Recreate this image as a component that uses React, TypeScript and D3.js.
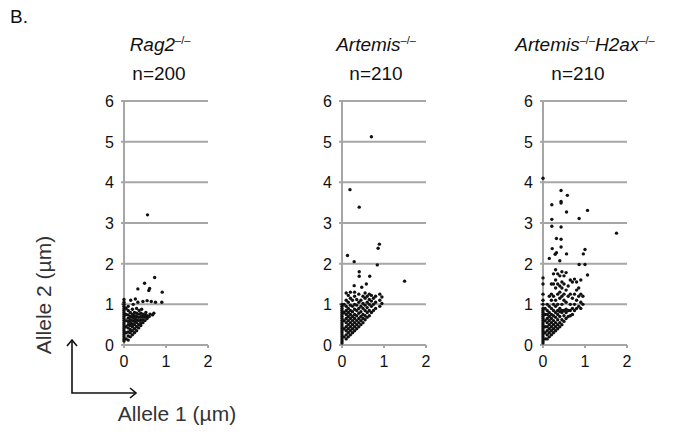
import * as d3 from 'd3';

// [Allele 1, Allele 2] in µm
const rag2Points: [number, number][] = [
  [0, 0.1], [0, 0.15], [0, 0.2], [0, 0.25], [0, 0.3], [0, 0.35], [0, 0.4], [0, 0.45], [0, 0.5], [0, 0.55],
  [0, 0.6], [0, 0.65], [0, 0.7], [0, 0.75], [0, 0.8], [0, 0.85], [0, 0.9], [0, 0.95], [0, 1.0], [0, 1.05], [0, 1.12],
  [0.05, 0.15], [0.05, 0.3], [0.05, 0.45], [0.05, 0.6], [0.05, 0.75], [0.05, 0.9],
  [0.1, 0.12], [0.1, 0.22], [0.1, 0.32], [0.1, 0.42], [0.1, 0.5], [0.1, 0.58], [0.1, 0.66], [0.1, 0.74], [0.1, 0.85], [0.1, 0.95],
  [0.15, 0.2], [0.15, 0.3], [0.15, 0.38], [0.15, 0.48], [0.15, 0.55], [0.15, 0.62], [0.15, 0.7], [0.15, 0.8], [0.16, 1.1],
  [0.2, 0.25], [0.2, 0.35], [0.2, 0.45], [0.2, 0.52], [0.2, 0.6], [0.2, 0.68], [0.2, 0.75], [0.2, 0.88], [0.22, 1.0],
  [0.25, 0.3], [0.25, 0.4], [0.25, 0.5], [0.25, 0.58], [0.25, 0.65], [0.25, 0.72], [0.25, 0.8], [0.27, 1.13],
  [0.3, 0.35], [0.3, 0.45], [0.3, 0.55], [0.3, 0.62], [0.3, 0.7], [0.3, 0.78], [0.3, 0.9], [0.33, 1.05], [0.33, 1.38],
  [0.35, 0.42], [0.35, 0.5], [0.35, 0.6], [0.35, 0.68], [0.35, 0.76], [0.36, 0.85],
  [0.4, 0.48], [0.4, 0.55], [0.4, 0.62], [0.4, 0.7], [0.4, 0.78], [0.42, 0.88],
  [0.45, 0.55], [0.45, 0.62], [0.45, 0.7], [0.45, 0.76], [0.45, 1.07], [0.49, 1.52],
  [0.5, 0.6], [0.5, 0.68], [0.5, 0.74], [0.52, 0.8],
  [0.55, 0.65], [0.55, 0.72], [0.55, 1.09], [0.56, 3.2], [0.59, 1.34], [0.61, 1.39],
  [0.6, 0.7], [0.62, 0.76], [0.65, 1.07], [0.68, 0.74], [0.71, 0.78], [0.73, 1.66], [0.75, 1.05], [0.9, 1.05], [0.91, 1.3],
];

const artemisPoints: [number, number][] = [
  [0, 0.05], [0, 0.1], [0, 0.15], [0, 0.2], [0, 0.25], [0, 0.3], [0, 0.35], [0, 0.4], [0, 0.45], [0, 0.5],
  [0, 0.55], [0, 0.6], [0, 0.65], [0, 0.7], [0, 0.75], [0, 0.8], [0, 0.85], [0, 0.9], [0, 0.95], [0, 1.0],
  [0.05, 0.2], [0.05, 0.4], [0.05, 0.6], [0.05, 0.8], [0.05, 1.0],
  [0.1, 0.15], [0.1, 0.25], [0.1, 0.35], [0.1, 0.45], [0.1, 0.55], [0.1, 0.65], [0.1, 0.75], [0.1, 0.85], [0.1, 0.95], [0.1, 1.1], [0.1, 1.28],
  [0.15, 0.2], [0.15, 0.3], [0.15, 0.4], [0.15, 0.5], [0.15, 0.6], [0.15, 0.7], [0.15, 0.8], [0.15, 0.9], [0.15, 1.05], [0.15, 1.22],
  [0.2, 0.25], [0.2, 0.35], [0.2, 0.45], [0.2, 0.55], [0.2, 0.65], [0.2, 0.75], [0.2, 0.85], [0.2, 0.98], [0.2, 1.15], [0.2, 1.3],
  [0.25, 0.3], [0.25, 0.4], [0.25, 0.5], [0.25, 0.6], [0.25, 0.7], [0.25, 0.82], [0.25, 0.95], [0.25, 1.1],
  [0.3, 0.35], [0.3, 0.45], [0.3, 0.55], [0.3, 0.65], [0.3, 0.75], [0.3, 0.88], [0.3, 1.0], [0.3, 1.2], [0.3, 1.3],
  [0.35, 0.4], [0.35, 0.5], [0.35, 0.6], [0.35, 0.72], [0.35, 0.85], [0.35, 0.98], [0.35, 1.12],
  [0.4, 0.45], [0.4, 0.55], [0.4, 0.65], [0.4, 0.78], [0.4, 0.9], [0.4, 1.05], [0.4, 1.25],
  [0.45, 0.5], [0.45, 0.6], [0.45, 0.7], [0.45, 0.82], [0.45, 0.95], [0.45, 1.1],
  [0.5, 0.55], [0.5, 0.65], [0.5, 0.75], [0.5, 0.9], [0.5, 1.02], [0.5, 1.2],
  [0.55, 0.62], [0.55, 0.72], [0.55, 0.85], [0.55, 0.98], [0.55, 1.15], [0.55, 1.28],
  [0.6, 0.68], [0.6, 0.8], [0.6, 0.92], [0.6, 1.05], [0.6, 1.2],
  [0.65, 0.72], [0.65, 0.85], [0.65, 1.0], [0.65, 1.12], [0.65, 1.25],
  [0.7, 0.8], [0.7, 0.95], [0.7, 1.08], [0.7, 1.22],
  [0.75, 0.85], [0.75, 1.0], [0.75, 1.15],
  [0.8, 0.9], [0.8, 1.05], [0.8, 1.2],
  [0.9, 0.95], [0.9, 1.1], [0.9, 1.25], [0.95, 1.02], [0.95, 1.18],
  [0.7, 5.12], [0.19, 3.82], [0.41, 3.39], [0.89, 2.48], [0.86, 2.38], [0.13, 2.2], [0.29, 2.05], [0.84, 1.97],
  [1.49, 1.57], [0.41, 1.8], [0.41, 1.69], [0.66, 1.69], [0.47, 1.42], [0.58, 1.5], [0.29, 1.46],
];

const artemisH2axPoints: [number, number][] = [
  [0, 0.05], [0, 0.1], [0, 0.15], [0, 0.2], [0, 0.25], [0, 0.3], [0, 0.35], [0, 0.4], [0, 0.45], [0, 0.5],
  [0, 0.55], [0, 0.6], [0, 0.65], [0, 0.7], [0, 0.75], [0, 0.8], [0, 0.85], [0, 0.9], [0, 1.0], [0, 1.1],
  [0, 1.25], [0, 1.5], [0, 1.65],
  [0.05, 0.15], [0.05, 0.3], [0.05, 0.45], [0.05, 0.6], [0.05, 0.75], [0.05, 0.9],
  [0.1, 0.15], [0.1, 0.25], [0.1, 0.35], [0.1, 0.45], [0.1, 0.55], [0.1, 0.65], [0.1, 0.75], [0.1, 0.85], [0.1, 1.0],
  [0.15, 0.2], [0.15, 0.3], [0.15, 0.4], [0.15, 0.5], [0.15, 0.6], [0.15, 0.7], [0.15, 0.8], [0.15, 0.95], [0.15, 1.2],
  [0.2, 0.25], [0.2, 0.35], [0.2, 0.45], [0.2, 0.55], [0.2, 0.65], [0.2, 0.75], [0.2, 0.9], [0.2, 1.1], [0.2, 1.25], [0.2, 1.5],
  [0.25, 0.3], [0.25, 0.4], [0.25, 0.5], [0.25, 0.6], [0.25, 0.72], [0.25, 0.85], [0.25, 1.0], [0.25, 1.2], [0.25, 1.5], [0.25, 1.75],
  [0.3, 0.35], [0.3, 0.45], [0.3, 0.55], [0.3, 0.68], [0.3, 0.8], [0.3, 0.95], [0.3, 1.1], [0.3, 1.4], [0.3, 1.6], [0.3, 1.85],
  [0.35, 0.4], [0.35, 0.5], [0.35, 0.62], [0.35, 0.75], [0.35, 0.85], [0.35, 1.0], [0.35, 1.25], [0.35, 1.5], [0.35, 1.75],
  [0.4, 0.45], [0.4, 0.55], [0.4, 0.7], [0.4, 0.82], [0.4, 0.9], [0.4, 1.15], [0.4, 1.3], [0.4, 1.45], [0.4, 1.7],
  [0.45, 0.5], [0.45, 0.62], [0.45, 0.8], [0.45, 0.85], [0.45, 1.0], [0.45, 1.2], [0.45, 1.4], [0.45, 1.55], [0.45, 1.8],
  [0.5, 0.58], [0.5, 0.72], [0.5, 0.85], [0.5, 1.1], [0.5, 1.25], [0.5, 1.5], [0.5, 1.7],
  [0.55, 0.65], [0.55, 0.8], [0.55, 0.88], [0.55, 1.05], [0.55, 1.35], [0.55, 1.78],
  [0.6, 0.7], [0.6, 0.85], [0.6, 1.2], [0.6, 1.45],
  [0.65, 0.72], [0.65, 0.85], [0.65, 1.0], [0.65, 1.25], [0.65, 1.6],
  [0.7, 0.75], [0.7, 0.9], [0.7, 1.15], [0.7, 1.55],
  [0.75, 0.85], [0.75, 1.0], [0.75, 1.25], [0.75, 1.62],
  [0.8, 0.9], [0.8, 1.1], [0.8, 1.35], [0.8, 1.55],
  [0.85, 0.95], [0.85, 1.2], [0.85, 1.4],
  [0.9, 0.9], [0.9, 1.05], [0.9, 1.25], [0.9, 1.6], [0.95, 1.0], [0.95, 1.2],
  [0, 4.1], [0.43, 3.8], [0.58, 3.68], [0.21, 3.45], [0.43, 3.53], [0.43, 3.49], [0.56, 3.27], [1.06, 3.31],
  [0.86, 3.11], [0.21, 3.09], [0.21, 2.92], [0.43, 2.9], [1.75, 2.75], [0.32, 2.62], [0.43, 2.6], [0.43, 2.41],
  [0.22, 2.37], [0.32, 2.27], [0.29, 2.23], [1.0, 2.35], [0.96, 2.24], [0.56, 2.24], [0.15, 2.13], [0.4, 2.07],
  [0.86, 1.98], [1.0, 1.98], [1.06, 1.72],
];

const panelNames = [['Rag2'], ['Artemis'], ['Artemis', 'H2ax']];
const panelCounts = ['n=200', 'n=210', 'n=210'];
const yTicks = [0, 1, 2, 3, 4, 5, 6];
const xTicks = [0, 1, 2];

const panelData = [rag2Points, artemisPoints, artemisH2axPoints];
const panelLeft = [124, 342, 543];
const titleCenter = [160, 376, 585];
const countCenter = [159, 376, 578];

const W = 683;
const H = 435;
const FONT = "'Liberation Sans', Arial, sans-serif";
const GRID = '#a6a6a6';

function Panel({ idx }: { idx: number }) {
  const left = panelLeft[idx];
  const x = d3.scaleLinear().domain([0, 2]).range([left, left + 84]);
  const y = d3.scaleLinear().domain([0, 6]).range([345, 101]);
  const names = panelNames[idx];

  // genotype title: italic gene name followed by a small raised –/–
  const parts: JSX.Element[] = [];
  names.forEach((nm, i) => {
    parts.push(<tspan key={`n${i}`} fontStyle="italic" dy={i === 0 ? 0 : 7}>{nm}</tspan>);
    parts.push(<tspan key={`s${i}`} fontSize={11} dy={-7}>–/–</tspan>);
  });

  return (
    <g>
      <text x={titleCenter[idx]} y={51} textAnchor="middle" fontSize={19} fontFamily={FONT} fill="#111">
        {parts}
      </text>
      <text x={countCenter[idx]} y={80} textAnchor="middle" fontSize={19} fontFamily={FONT} fill="#111">
        {panelCounts[idx]}
      </text>

      {yTicks.map((t) => (
        <line key={t} x1={x(0) - 3} x2={x(2)} y1={y(t)} y2={y(t)} stroke={GRID} strokeWidth={2} />
      ))}
      <line x1={x(0)} x2={x(0)} y1={y(6)} y2={y(0) + 3} stroke={GRID} strokeWidth={2} />
      {xTicks.map((t) => (
        <line key={t} x1={x(t)} x2={x(t)} y1={y(0)} y2={y(0) + 3} stroke={GRID} strokeWidth={2} />
      ))}

      {yTicks.map((t) => (
        <text key={t} x={x(0) - 10} y={y(t) + 6} textAnchor="end" fontSize={16} fontFamily={FONT} fill="#111">
          {t}
        </text>
      ))}
      {xTicks.map((t) => (
        <text key={t} x={x(t)} y={y(0) + 22} textAnchor="middle" fontSize={16} fontFamily={FONT} fill="#111">
          {t}
        </text>
      ))}

      {panelData[idx].map((d, i) => (
        <circle key={i} cx={x(d[0])} cy={y(d[1])} r={1.7} fill="#111" />
      ))}
    </g>
  );
}

export default function App() {
  return (
    <svg width={W} height={H} style={{ position: 'absolute', left: 0, top: 0, background: '#fff' }}>
      <text x={10} y={23} fontSize={19} fontFamily={FONT} fill="#111">B.</text>
      {[0, 1, 2].map((i) => (
        <Panel key={i} idx={i} />
      ))}
      <text
        transform="translate(51,295) rotate(-90)"
        textAnchor="middle"
        fontSize={21}
        fontFamily={FONT}
        fill="#333"
      >
        Allele 2 (µm)
      </text>
      <text x={177} y={421} textAnchor="middle" fontSize={21} fontFamily={FONT} fill="#333">
        Allele 1 (µm)
      </text>
      <g stroke="#111" strokeWidth={1.6} fill="none">
        <path d="M72,340 L72,393 L136,393" />
        <path d="M67,346 L72,340 L77,346" />
        <path d="M130,388 L136,393 L130,398" />
      </g>
    </svg>
  );
}
